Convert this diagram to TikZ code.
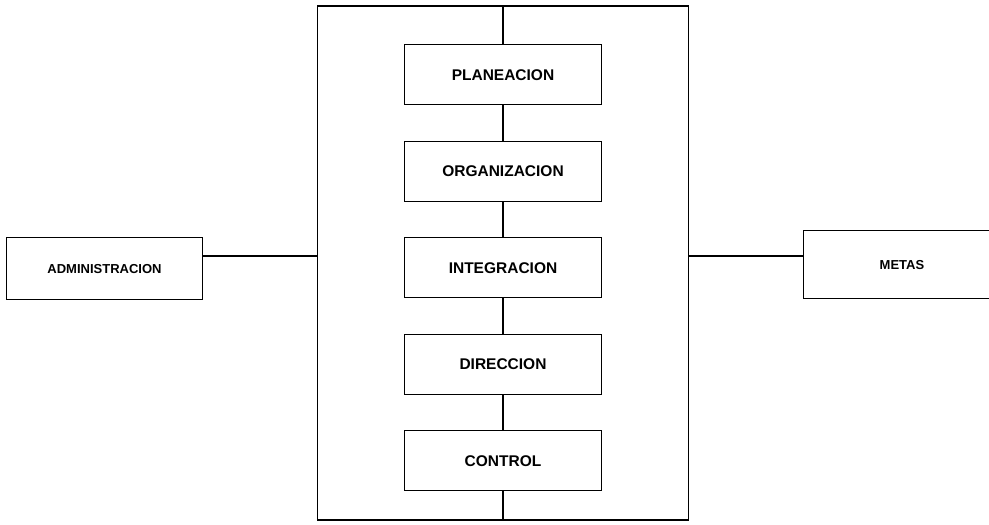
\documentclass[tikz,border=0pt]{standalone}
\usepackage{fontspec}
\setmainfont{Liberation Sans}
\begin{document}
\begin{tikzpicture}[x=1pt, y=1pt, declare function={d=96.5;},
    caja/.style={fill=white, rectangle, draw=black, line width=1pt, inner sep=0pt, minimum width=197pt, minimum height=60pt, font=\fontsize{15.5}{18}\selectfont\bfseries},
    lado/.style={caja, minimum width=196pt, minimum height=62pt, font=\fontsize{13}{15}\selectfont\bfseries},
    linea/.style={line width=1.5pt}]
  \useasboundingbox (0,0) rectangle (989,525);
  \node [draw=black, line width=1.8pt, inner sep=0pt, minimum width=371pt, minimum height=514pt] (marco) at (503,262) {};
  \coordinate (eje) at (0,269);
  \node [caja] (plan) at (503,450) {PLANEACION};
  \node [caja] (org) at (503,450-d) {ORGANIZACION};
  \node [caja] (integ) at (503,450-2*d) {INTEGRACION};
  \node [caja] (dir) at (503,450-3*d) {DIRECCION};
  \node [caja] (ctrl) at (503,450-4*d) {CONTROL};
  \node [lado] (adm) at (104.5,256) {ADMINISTRACION};
  \node [lado, minimum width=198pt, minimum height=68pt] (metas) at (902,260) {METAS};
  \draw [linea] (marco.north) -- (plan) (plan) -- (org) (org) -- (integ) (integ) -- (dir) (dir) -- (ctrl) (ctrl) -- (marco.south);
  \draw [linea] (adm.east |- eje) -- (marco.west |- eje) (marco.east |- eje) -- (metas.west |- eje);
\end{tikzpicture}
\end{document}
